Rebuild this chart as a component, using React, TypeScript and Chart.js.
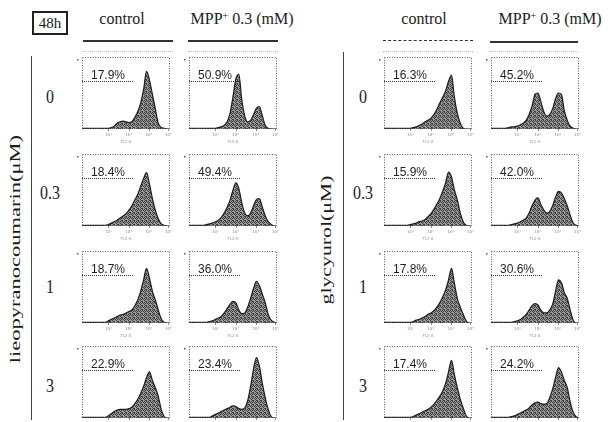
import React, { useEffect, useRef } from "react";
import { Chart, registerables } from "chart.js";

Chart.register(...registerables);

// ---------- data ----------
const channels = [0, 1, 2, 3, 4, 5, 6, 7, 8, 9, 10, 11, 12, 13, 14, 15, 16, 17, 18, 19, 20, 21, 22, 23, 24, 25, 26, 27, 28, 29, 30];
const decadeTicks = [9.0, 15.9, 22.8, 29.4];
const decadeLabels = ["10¹", "10²", "10³", "10⁴"];
const columnHeaders = ["control", "MPP+ 0.3 (mM)"];
const doseLabels = ["0", "0.3", "1", "3"];
const compoundNames = ["lieopyranocoumarin(μM)", "glycyurol(μM)"];

// lieopyranocoumarin, control / MPP+
const lieoCtrl0 = [1, 1, 1, 1, 1, 1, 1, 1, 1, 1, 2, 4, 8, 10, 11, 10, 9, 10, 16, 24, 36, 55, 80, 68, 48, 28, 8, 2, 1, 0, 0];
const lieoMpp0 = [1, 1, 1, 1, 1, 1, 1, 1, 1, 1, 2, 3, 5, 10, 22, 45, 70, 76, 40, 18, 10, 12, 20, 29, 31, 18, 5, 1, 0, 0, 0];
const lieoCtrl03 = [1, 1, 1, 1, 1, 1, 1, 1, 1, 2, 4, 6, 8, 11, 14, 17, 22, 28, 36, 44, 55, 66, 74, 58, 38, 22, 10, 3, 1, 0, 0];
const lieoMpp03 = [1, 1, 1, 1, 1, 1, 2, 3, 4, 6, 8, 12, 18, 26, 36, 50, 60, 52, 32, 18, 14, 18, 28, 37, 38, 26, 14, 6, 2, 0, 0];
const lieoCtrl1 = [1, 1, 1, 1, 1, 1, 1, 1, 1, 3, 5, 7, 9, 11, 12, 14, 16, 18, 24, 32, 44, 60, 76, 62, 44, 32, 18, 6, 1, 0, 0];
const lieoMpp1 = [1, 1, 1, 1, 1, 1, 1, 2, 3, 5, 7, 9, 14, 20, 26, 30, 28, 18, 13, 14, 22, 34, 48, 58, 52, 40, 28, 12, 4, 1, 0];
const lieoCtrl3 = [1, 1, 1, 1, 1, 1, 1, 1, 1, 3, 6, 9, 11, 12, 12, 12, 13, 15, 20, 26, 34, 44, 56, 64, 52, 42, 30, 12, 2, 0, 0];
const lieoMpp3 = [1, 1, 1, 1, 1, 1, 1, 1, 3, 5, 7, 9, 11, 13, 15, 17, 16, 13, 12, 14, 24, 44, 68, 84, 72, 48, 28, 12, 2, 0, 0];

// glycyurol, control / MPP+
const glyCtrl0 = [1, 1, 1, 1, 1, 1, 1, 1, 1, 1, 2, 3, 5, 7, 10, 12, 15, 20, 27, 36, 44, 53, 66, 75, 44, 22, 8, 1, 0, 0, 0];
const glyMpp0 = [1, 1, 1, 1, 1, 1, 2, 3, 3, 4, 6, 8, 12, 20, 32, 48, 50, 38, 24, 18, 20, 28, 42, 50, 48, 25, 12, 4, 1, 0, 0];
const glyCtrl03 = [1, 1, 1, 1, 1, 1, 1, 1, 1, 2, 3, 4, 6, 7, 9, 13, 17, 23, 30, 38, 48, 60, 75, 68, 50, 36, 18, 6, 1, 0, 0];
const glyMpp03 = [1, 1, 1, 1, 1, 1, 1, 2, 3, 4, 6, 8, 11, 18, 28, 36, 39, 30, 22, 18, 20, 28, 40, 48, 46, 38, 28, 15, 4, 1, 0];
const glyCtrl1 = [1, 1, 1, 1, 1, 1, 1, 1, 1, 1, 2, 4, 5, 7, 9, 12, 14, 17, 22, 28, 36, 46, 60, 76, 55, 34, 22, 12, 3, 0, 0];
const glyMpp1 = [1, 1, 1, 1, 1, 1, 1, 1, 2, 3, 5, 8, 12, 18, 24, 27, 25, 18, 14, 14, 18, 26, 44, 60, 56, 42, 34, 18, 4, 0, 0];
const glyCtrl3 = [1, 1, 1, 1, 1, 1, 1, 1, 1, 1, 2, 4, 6, 8, 10, 12, 15, 19, 24, 30, 37, 48, 64, 80, 60, 42, 26, 14, 3, 0, 0];
const glyMpp3 = [1, 1, 1, 1, 1, 1, 1, 2, 3, 5, 7, 9, 11, 14, 18, 21, 22, 20, 19, 20, 28, 40, 56, 70, 64, 52, 42, 22, 8, 2, 0];

// sub-G1 percentages
const lieoCtrlPct = ["17.9%", "18.4%", "18.7%", "22.9%"];
const lieoMppPct = ["50.9%", "49.4%", "36.0%", "23.4%"];
const glyCtrlPct = ["16.3%", "15.9%", "17.8%", "17.4%"];
const glyMppPct = ["45.2%", "42.0%", "30.6%", "24.2%"];

const columnSeries = [
  [lieoCtrl0, lieoCtrl03, lieoCtrl1, lieoCtrl3],
  [lieoMpp0, lieoMpp03, lieoMpp1, lieoMpp3],
  [glyCtrl0, glyCtrl03, glyCtrl1, glyCtrl3],
  [glyMpp0, glyMpp03, glyMpp1, glyMpp3],
];
const columnPct = [lieoCtrlPct, lieoMppPct, glyCtrlPct, glyMppPct];

// ---------- layout ----------
const BOX_LEFT = [82, 189, 384, 491];
const BOX_TOP = [57, 154, 251, 346];
const BOX_W = 88;
const BOX_H = 72;
const PAD_L = 8;
const PAD_R = 4;
const PAD_T = 5;
const PAD_B = 18;

const SERIF = '"Liberation Serif", "Times New Roman", serif';

function makePattern(ctx: CanvasRenderingContext2D) {
  const c = document.createElement("canvas");
  c.width = 4;
  c.height = 4;
  const g = c.getContext("2d")!;
  g.fillStyle = "#9a9a9a";
  g.fillRect(0, 0, 4, 4);
  g.fillStyle = "#3c3c3c";
  const dark = [
    [0, 0], [2, 0], [1, 1], [3, 1], [2, 2], [0, 3], [3, 3],
  ];
  dark.forEach(([x, y]) => g.fillRect(x, y, 1, 1));
  return ctx.createPattern(c, "repeat");
}

const decoPlugin = {
  id: "panelDeco",
  afterDatasetsDraw(chart: any, _args: any, opts: any) {
    const { ctx, chartArea } = chart;
    const { left, top, right, bottom } = chartArea;
    ctx.save();
    // dotted frame
    ctx.strokeStyle = "#5e5e5e";
    ctx.lineWidth = 1;
    ctx.setLineDash([1, 1.5]);
    ctx.strokeRect(left + 0.5, top + 0.5, right - left - 1, bottom - top - 1);
    // gate marker
    ctx.strokeStyle = "#333";
    ctx.setLineDash([1, 1]);
    ctx.beginPath();
    ctx.moveTo(left, top + 24.5);
    ctx.lineTo(left + 52, top + 24.5);
    ctx.stroke();
    ctx.setLineDash([]);
    // percentage
    ctx.fillStyle = "#1e1e1e";
    ctx.font = '12px "Liberation Sans", Arial, sans-serif';
    ctx.textAlign = "left";
    ctx.textBaseline = "alphabetic";
    ctx.fillText(opts.pct, left + 9, top + 22);
    // decade ticks
    const xs = chart.scales.x;
    ctx.fillStyle = "#8a8a8a";
    ctx.font = '4px "DejaVu Sans", sans-serif';
    ctx.textAlign = "center";
    decadeTicks.forEach((t, i) => {
      const px = xs.getPixelForValue(t);
      ctx.fillRect(Math.round(px), bottom, 1, 2);
      ctx.fillText(decadeLabels[i], px, bottom + 7);
    });
    // axis titles (tiny)
    ctx.fillStyle = "#9a9a9a";
    ctx.fillText("FL2-A", (left + right) / 2, bottom + 14);
    ctx.fillStyle = "#555";
    ctx.fillRect(left - 5, top + 2, 1.5, 1.5);
    ctx.restore();
  },
};

function Histogram({ values, pct, left, top }: { values: number[]; pct: string; left: number; top: number }) {
  const ref = useRef<HTMLCanvasElement>(null);
  useEffect(() => {
    const canvas = ref.current!;
    const ctx = canvas.getContext("2d")!;
    const pattern = makePattern(ctx);
    const chart = new Chart(canvas, {
      type: "line",
      data: {
        datasets: [
          {
            data: channels.map((c, i) => ({ x: c, y: values[i] })),
            fill: "origin",
            backgroundColor: pattern as any,
            borderColor: "#1c1c1c",
            borderWidth: 1.2,
            pointRadius: 0,
            cubicInterpolationMode: "monotone",
          },
        ],
      },
      options: {
        responsive: false,
        animation: false,
        devicePixelRatio: 1,
        layout: { padding: { left: PAD_L, right: PAD_R, top: PAD_T, bottom: PAD_B } },
        plugins: {
          legend: { display: false },
          tooltip: { enabled: false },
          panelDeco: { pct },
        } as any,
        scales: {
          x: { type: "linear", min: 0, max: 30, display: false },
          y: { min: 0, max: 100, display: false },
        },
      },
      plugins: [decoPlugin],
    });
    return () => chart.destroy();
  }, [values, pct]);
  return (
    <canvas
      ref={ref}
      width={BOX_W + PAD_L + PAD_R}
      height={BOX_H + PAD_T + PAD_B}
      style={{ position: "absolute", left: left - PAD_L, top: top - PAD_T }}
    />
  );
}

function Text({ x, y, children, size = 15, extra = "" }: any) {
  return (
    <div
      style={{
        position: "absolute",
        left: x,
        top: y,
        transform: `translate(-50%, -50%) ${extra}`,
        fontFamily: SERIF,
        fontSize: size,
        lineHeight: `${size}px`,
        whiteSpace: "nowrap",
        color: "#1a1a1a",
      }}
    >
      {children}
    </div>
  );
}

function Header({ label, cx }: { label: string; cx: number }) {
  if (label.startsWith("MPP+")) {
    return (
      <Text x={cx} y={19} size={16}>
        MPP<sup style={{ fontSize: 10, verticalAlign: "5px", lineHeight: 0 }}>+</sup>
        {label.slice(4)}
      </Text>
    );
  }
  return <Text x={cx} y={19} size={16}>{label}</Text>;
}

export default function App() {
  const headerCx = [122, 242, 424, 550];
  const underline = [
    [83, 173, 40, 2, "solid"],
    [188, 278, 40, 2, "solid"],
    [383, 473, 40, 1, "dashed"],
    [490, 578, 41, 2, "solid"],
  ] as const;
  const rowLabelY = [97, 193, 287, 386];
  return (
    <div style={{ position: "fixed", left: 0, top: 0, width: 613, height: 422, background: "#fff", overflow: "hidden" }}>
      {/* 48h box */}
      <div
        style={{
          position: "absolute",
          left: 32,
          top: 11,
          width: 32,
          height: 20,
          border: "2px solid #222",
          fontFamily: SERIF,
          fontSize: 15,
          lineHeight: "20px",
          textAlign: "center",
          color: "#1a1a1a",
        }}
      >
        48h
      </div>
      {headerCx.map((cx, i) => (
        <Header key={i} label={columnHeaders[i % 2]} cx={cx} />
      ))}
      {underline.map(([x1, x2, y, w, st], i) => (
        <React.Fragment key={i}>
          <div style={{ position: "absolute", left: x1, top: y, width: x2 - x1, borderTop: `${w}px ${st} #333` }} />
          <div style={{ position: "absolute", left: x1, top: 51, width: x2 - x1, borderTop: "1px dotted #bbb" }} />
        </React.Fragment>
      ))}
      {/* vertical separators */}
      <div style={{ position: "absolute", left: 31, top: 56, height: 364, borderLeft: "1px solid #444" }} />
      <div style={{ position: "absolute", left: 343, top: 52, height: 368, borderLeft: "1px solid #444" }} />
      <Text x={15} y={249} extra="rotate(-90deg) scaleX(1.5)">{compoundNames[0]}</Text>
      <Text x={326} y={240} extra="rotate(-90deg) scaleX(1.45)">{compoundNames[1]}</Text>
      {rowLabelY.map((y, r) => (
        <React.Fragment key={r}>
          <Text x={50} y={y} size={16} extra="scaleY(1.15)">{doseLabels[r]}</Text>
          <Text x={363} y={y} size={16} extra="scaleY(1.15)">{doseLabels[r]}</Text>
        </React.Fragment>
      ))}
      {columnSeries.map((col, c) =>
        col.map((vals, r) => (
          <Histogram key={`${c}-${r}`} values={vals} pct={columnPct[c][r]} left={BOX_LEFT[c]} top={BOX_TOP[r]} />
        ))
      )}
    </div>
  );
}
